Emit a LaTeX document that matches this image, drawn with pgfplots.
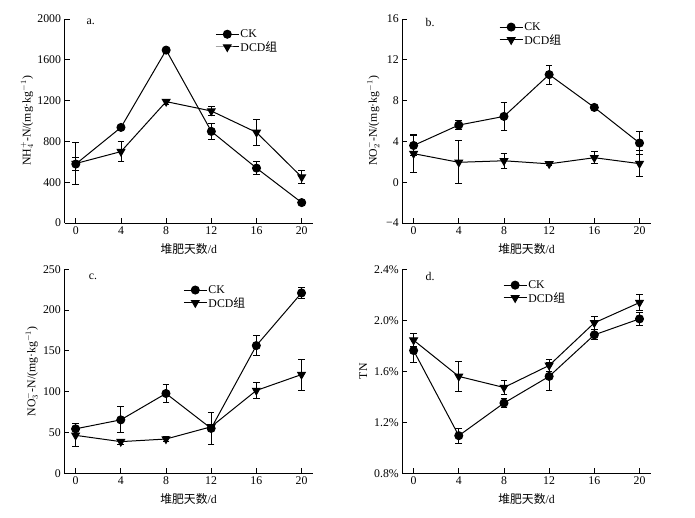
\documentclass[border=0pt]{standalone}
\usepackage{pgfplots}
\usepackage{pgfplotstable}
\pgfplotsset{compat=1.18}
\usepackage{fontspec}
\setmainfont{Liberation Serif}
\newfontfamily\cjk{Noto Sans CJK SC}

\pgfplotstableread{
x ck cke dcd dcde
0 578 63 583 205
4 937 20 700 95
8 1695 30 1190 25
12 898 78 1098 45
16 538 62 888 125
20 200 15 450 62
}\dataa
\pgfplotstableread{
x ck cke dcd dcde
0 3.6 0.95 2.8 1.85
4 5.6 0.45 1.95 2.1
8 6.45 1.35 2.1 0.73
12 10.55 0.93 1.8 0.2
16 7.33 0.2 2.4 0.6
20 3.84 1.12 1.82 1.25
}\datab
\pgfplotstableread{
x ck cke dcd dcde
0 54.5 6.5 46.5 14
4 65.5 16 38.8 3
8 97.8 11 42 3
12 55 20 57 3
16 156.5 12 101.5 10
20 221 6.5 121 19
}\datac
\pgfplotstableread{
x ck cke dcd dcde
0 1.763 0.09 1.844 0.05
4 1.095 0.06 1.56 0.12
8 1.351 0.035 1.473 0.053
12 1.56 0.11 1.646 0.05
16 1.886 0.04 1.98 0.05
20 2.011 0.048 2.139 0.06
}\datad

\pgfplotsset{
  panel/.style={
    scale only axis, width=248.5pt, height=204pt,
    axis lines*=left,
    axis line style={-, line width=0.8pt, black},
    tick align=inside, major tick length=5pt,
    tick style={line width=0.8pt, black},
    xmin=-1, xmax=21, xtick={0,4,8,12,16,20},
    clip=false,
    font=\fontsize{11.8}{14}\selectfont,
    ticklabel style={font=\fontsize{11.8}{14}\selectfont},
    /pgf/number format/assume math mode=true,
    /pgf/number format/1000 sep={},
    xlabel={{\cjk 堆肥天数}/d},
    xlabel style={at={(axis description cs:0.5,-0.128)}, anchor=center},
    legend cell align=left,
    legend image code/.code={\draw[mark repeat=2,mark phase=2,##1] plot coordinates {(0pt,0pt) (11.5pt,0pt) (23pt,0pt)};},
    legend style={draw=none, fill=none, inner sep=0pt, row sep=0pt,
      nodes={inner sep=1.2pt}, font=\fontsize{11.8}{14}\selectfont},
  },
  ck/.style={black, line width=1pt, mark=*, mark size=4pt, mark options={solid, fill=black},
    error bars/.cd, y dir=both, y explicit,
    error bar style={line width=0.9pt, black},
    error mark options={rotate=90, line width=0.9pt, mark size=3.3pt, black}},
  dcd/.style={black, line width=1pt, mark=triangle*, mark size=4.4pt, mark options={solid, fill=black, rotate=180},
    error bars/.cd, y dir=both, y explicit,
    error bar style={line width=0.9pt, black},
    error mark options={rotate=90, line width=0.9pt, mark size=3.3pt, black}},
}

\begin{document}
\begin{tikzpicture}
\useasboundingbox (0,0) rectangle (695pt,518pt);

% panel a
\begin{axis}[panel, at={(64.5pt,295pt)}, anchor=south west,
  ymin=0, ymax=2000, ytick={0,400,800,1200,1600,2000},
  ylabel={NH$_4^+$-N/(mg·kg$^{-1}$)},
  ylabel style={at={(axis description cs:-0.151,0.5)}, anchor=center},
  legend style={at={(axis description cs:0.606,0.955)}, anchor=north west}]
\addplot[ck] table[x=x, y=ck, y error=cke] {\dataa};
\addlegendentry{CK}
\addplot[dcd] table[x=x, y=dcd, y error=dcde] {\dataa};
\addlegendentry{DCD{\cjk 组}}
\node[anchor=west] at (axis description cs:0.075,0.985) {a.};
\end{axis}

% panel b
\begin{axis}[panel, at={(402.3pt,295pt)}, anchor=south west,
  ymin=-4, ymax=16, ytick={-4,0,4,8,12,16}, yticklabels={−4,0,4,8,12,16},
  ylabel={NO$_2^-$-N/(mg·kg$^{-1}$)},
  ylabel style={at={(axis description cs:-0.117,0.5)}, anchor=center},
  legend style={at={(axis description cs:0.389,0.99)}, anchor=north west}]
\addplot[ck] table[x=x, y=ck, y error=cke] {\datab};
\addlegendentry{CK}
\addplot[dcd] table[x=x, y=dcd, y error=dcde] {\datab};
\addlegendentry{DCD{\cjk 组}}
\node[anchor=west] at (axis description cs:0.08,0.985) {b.};
\end{axis}

% panel c
\begin{axis}[panel, at={(64.3pt,44.7pt)}, anchor=south west,
  ymin=0, ymax=250, ytick={0,50,100,150,200,250},
  ylabel={NO$_3^-$-N/(mg·kg$^{-1}$)},
  ylabel style={at={(axis description cs:-0.131,0.5)}, anchor=center},
  legend style={at={(axis description cs:0.478,0.928)}, anchor=north west}]
\addplot[ck] table[x=x, y=ck, y error=cke] {\datac};
\addlegendentry{CK}
\addplot[dcd] table[x=x, y=dcd, y error=dcde] {\datac};
\addlegendentry{DCD{\cjk 组}}
\node[anchor=west] at (axis description cs:0.085,0.965) {c.};
\end{axis}

% panel d
\begin{axis}[panel, at={(402.3pt,44.7pt)}, anchor=south west,
  ymin=0.8, ymax=2.4, ytick={0.8,1.2,1.6,2.0,2.4},
  yticklabels={0.8\%,1.2\%,1.6\%,2.0\%,2.4\%},
  ylabel={TN},
  ylabel style={at={(axis description cs:-0.157,0.5)}, anchor=center},
  legend style={at={(axis description cs:0.405,0.952)}, anchor=north west}]
\addplot[ck] table[x=x, y=ck, y error=cke] {\datad};
\addlegendentry{CK}
\addplot[dcd] table[x=x, y=dcd, y error=dcde] {\datad};
\addlegendentry{DCD{\cjk 组}}
\node[anchor=west] at (axis description cs:0.08,0.965) {d.};
\end{axis}
\end{tikzpicture}
\end{document}
